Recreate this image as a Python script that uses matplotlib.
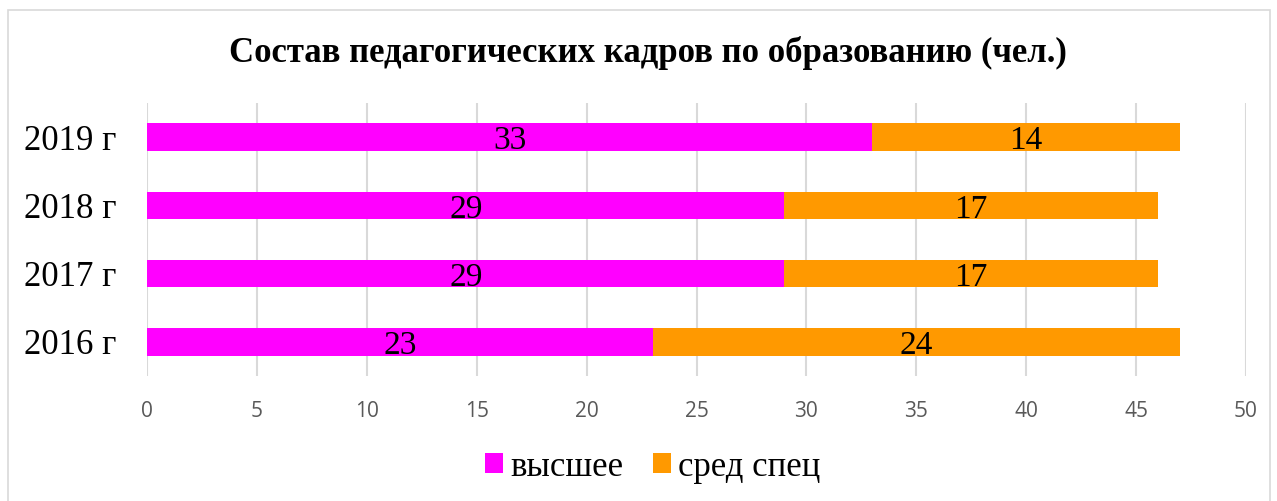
import matplotlib.pyplot as plt
from matplotlib.patches import Rectangle

years = ["2016 г", "2017 г", "2018 г", "2019 г"]
higher = [23, 29, 29, 33]
secondary = [24, 17, 17, 14]
series_names = ["высшее", "сред спец"]
colors = ["#FF00FF", "#FF9900"]

fig = plt.figure(figsize=(12.77, 5.01), dpi=100)
ax = fig.add_axes([147 / 1277, 1 - 376 / 501, 1099 / 1277, 273 / 501])

b1 = ax.barh(years, higher, height=0.4, color=colors[0], label=series_names[0], zorder=2)
b2 = ax.barh(years, secondary, left=higher, height=0.4, color=colors[1], label=series_names[1], zorder=2)

for bars in (b1, b2):
    for r in bars:
        ax.text(r.get_x() + r.get_width() / 2, r.get_y() + r.get_height() / 2 - 0.06,
                f"{r.get_width():.0f}", ha="center", va="center",
                family="Liberation Serif", fontsize=24, color="black", zorder=3)

ax.set_xlim(0, 50)
ax.set_ylim(-0.5, 3.5)
ax.set_xticks(range(0, 51, 5))
ax.grid(axis="x", color="#D9D9D9", linewidth=1.5, zorder=0)
for s in ax.spines.values():
    s.set_visible(False)
ax.tick_params(axis="both", length=0)
ax.tick_params(axis="x", pad=18, labelsize=15, labelcolor="#595959")
ax.tick_params(axis="y", pad=22, labelsize=25)
for t in ax.get_xticklabels():
    t.set_family("Open Sans")
for t in ax.get_yticklabels():
    t.set_family("Liberation Serif")

fig.text(648 / 1277, 1 - 53 / 501, "Состав педагогических кадров по образованию (чел.)",
         ha="center", va="center", family="Liberation Serif", fontweight="bold", fontsize=25)

fig.legend(loc="center", bbox_to_anchor=(653 / 1277, 1 - 467 / 501), ncol=2, frameon=False,
           prop={"family": "Liberation Serif", "size": 25}, handlelength=0.52, handleheight=0.52,
           handletextpad=0.2, columnspacing=0.86)

fig.patches.append(Rectangle((8 / 1277, -0.05), 1262 / 1277, 1.05 - 10 / 501,
                             transform=fig.transFigure, fill=False, edgecolor="#D9D9D9", linewidth=1.2))

fig.savefig("out.png", dpi=100)
